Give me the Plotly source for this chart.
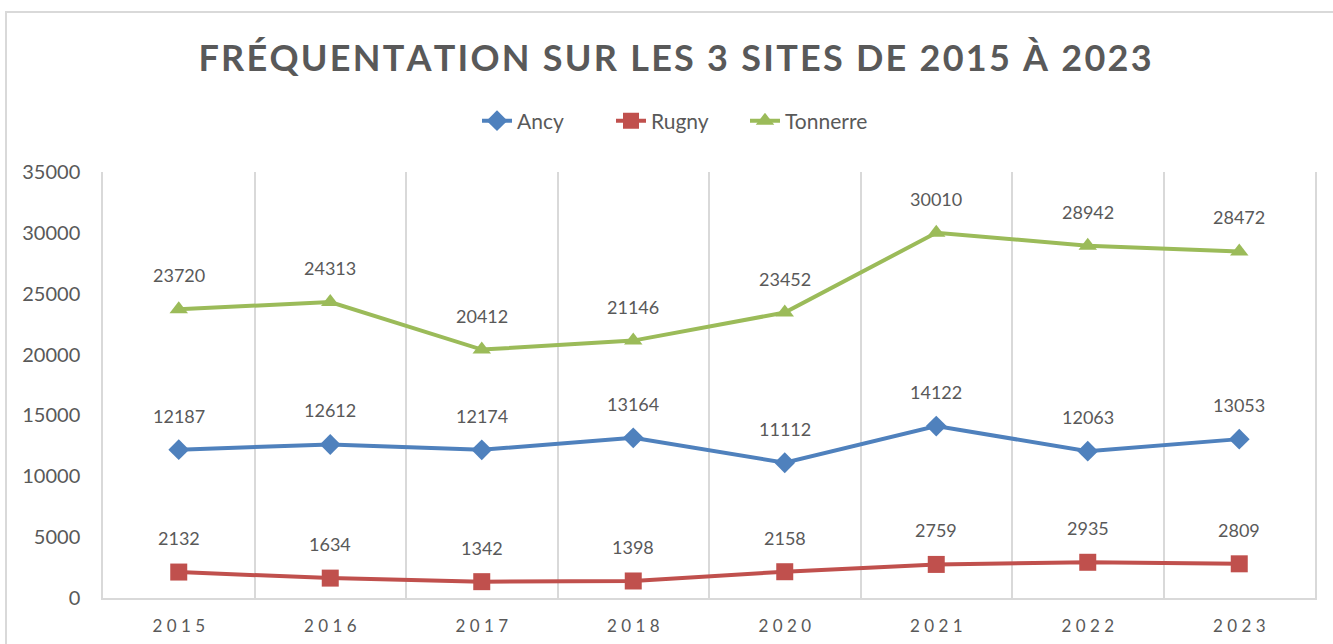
import plotly.graph_objects as go

years = ["2015", "2016", "2017", "2018", "2020", "2021", "2022", "2023"]
ancy = [12187, 12612, 12174, 13164, 11112, 14122, 12063, 13053]
rugny = [2132, 1634, 1342, 1398, 2158, 2759, 2935, 2809]
tonnerre = [23720, 24313, 20412, 21146, 23452, 30010, 28942, 28472]
y_ticks = [0, 5000, 10000, 15000, 20000, 25000, 30000, 35000]

title_text = "FRÉQUENTATION SUR LES 3 SITES DE 2015 À 2023"
FONT = "Lato"
GRAY = "#595959"

W, H = 1333, 644
ml, mr = 103, W - 1315
mt, mb = 172, H - 598
pw, ph = W - ml - mr, H - mt - mb


def spaced(s, sep):
    return sep.join(list(s))


tick_labels = [spaced(y, " ") for y in years]

series = [
    ("Ancy", ancy, "#4F81BD", "diamond", 16),
    ("Rugny", rugny, "#C0504D", "square", 17),
    ("Tonnerre", tonnerre, "#9BBB59", "triangle-up", 16),
]

fig = go.Figure()
for name, vals, col, sym, ms in series:
    fig.add_trace(go.Scatter(
        x=tick_labels, y=vals, name=name, mode="lines+markers",
        line=dict(color=col, width=4),
        marker=dict(symbol=sym, size=ms, color=col),
    ))

annotations = []
for name, vals, col, sym, ms in series:
    for xl, v in zip(tick_labels, vals):
        annotations.append(dict(
            x=xl, y=v, xref="x", yref="y", text=str(v), showarrow=False,
            yshift=34, font=dict(family=FONT, size=18, color=GRAY),
        ))


def px_x(p):
    return (p - ml) / pw


def px_y(p):
    return 1 - (p - mt) / ph


fig.update_layout(
    width=W, height=H,
    margin=dict(l=ml, r=mr, t=mt, b=mb, autoexpand=False),
    paper_bgcolor="white", plot_bgcolor="white",
    font=dict(family=FONT, color=GRAY),
    title=dict(
        text="<b>" + spaced(title_text, "\u200a") + "</b>",
        x=675 / W, xanchor="center", y=1 - 58 / H, yanchor="middle",
        font=dict(family=FONT, size=36, color=GRAY),
    ),
    legend=dict(
        orientation="h", x=px_x(678), xanchor="center", y=px_y(121), yanchor="middle",
        font=dict(family=FONT, size=21, color=GRAY),
        entrywidth=89, entrywidthmode="pixels", traceorder="normal",
    ),
    xaxis=dict(
        type="category", range=[-0.5, len(years) - 0.5], tickson="boundaries",
        showgrid=True, gridcolor="#D9D9D9", gridwidth=1.5,
        showline=True, linecolor="#D9D9D9", linewidth=1.5, ticks="",
        tickfont=dict(family=FONT, size=17, color=GRAY), ticklabelstandoff=12,
        fixedrange=True, automargin=False,
    ),
    yaxis=dict(
        range=[0, 35000], tickvals=y_ticks, showgrid=False, zeroline=False,
        showline=True, mirror=True, linecolor="#D9D9D9", linewidth=1.5,
        tickfont=dict(family=FONT, size=20, color=GRAY), ticklabelstandoff=17,
        tickformat="d", automargin=False, fixedrange=True,
    ),
    annotations=annotations,
    shapes=[dict(
        type="rect", xref="paper", yref="paper",
        x0=px_x(6), x1=px_x(1345), y0=px_y(660), y1=px_y(12),
        line=dict(color="#D9D9D9", width=2), fillcolor="rgba(0,0,0,0)", layer="below",
    )],
    showlegend=True,
)

fig.write_html(
    "out.html",
    config={"displayModeBar": False},
    post_script="document.body.style.margin='0px';",
)
